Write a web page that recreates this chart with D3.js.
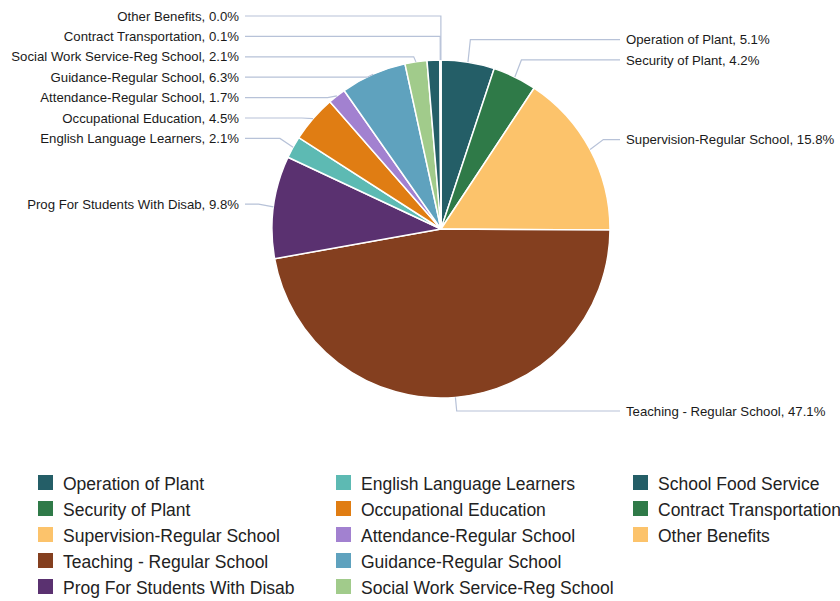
<!DOCTYPE html>
<html>
<head>
<meta charset="utf-8">
<script src="https://cdn.jsdelivr.net/npm/d3@7"></script>
<style>
  body { margin: 0; background: #fff; }
  svg { display: block; font-family: "Liberation Sans", Arial, sans-serif; }
</style>
</head>
<body>
<div id="chart"></div>
<script>
// data
var categories = [
  "Operation of Plant", "Security of Plant", "Supervision-Regular School",
  "Teaching - Regular School", "Prog For Students With Disab",
  "English Language Learners", "Occupational Education", "Attendance-Regular School",
  "Guidance-Regular School", "Social Work Service-Reg School",
  "School Food Service", "Contract Transportation", "Other Benefits"
];
var shares = [5.1, 4.2, 15.8, 47.1, 9.8, 2.1, 4.5, 1.7, 6.3, 2.1, 1.2, 0.1, 0.02];
var shownLabels = [5.1, 4.2, 15.8, 47.1, 9.8, 2.1, 4.5, 1.7, 6.3, 2.1, null, 0.1, 0.0];
var palette = ["#245e67", "#2f7a48", "#fcc36b", "#843f1f", "#5a3170",
               "#5dbab3", "#e07d13", "#a281d0", "#5fa2be", "#a1cb8b"];

var svgWidth = 840, svgHeight = 601;
var cx = 441, cy = 229, radius = 169;

var svg = d3.select("#chart").append("svg")
  .attr("width", svgWidth)
  .attr("height", svgHeight);

var color = d3.scaleOrdinal().domain(categories).range(palette);

var data = categories.map(function(c, i) {
  return { name: c, value: shares[i], label: shownLabels[i] };
});

var pie = d3.pie().sort(null).value(function(d) { return d.value; });
var arcs = pie(data);
var arc = d3.arc().innerRadius(0).outerRadius(radius);

var pieGroup = svg.append("g").attr("transform", `translate(${cx}, ${cy})`);

pieGroup.selectAll("path")
  .data(arcs)
  .enter()
  .append("path")
  .attr("d", arc)
  .attr("fill", d => color(d.data.name))
  .attr("stroke", "#fff")
  .attr("stroke-width", 1.5)
  .attr("stroke-linejoin", "round");

// label layout: natural y, then push apart in clusters
var labelR = 190, gap = 20.4, minY = 16, maxY = 411;
var labels = arcs.filter(d => d.data.label !== null).map(function(d) {
  var a = (d.startAngle + d.endAngle) / 2;
  return {
    d: d, a: a,
    side: Math.sin(a) >= 0 ? "right" : "left",
    y: cy - labelR * Math.cos(a)
  };
});

function spread(list) {
  list.sort((p, q) => p.y - q.y);
  var groups = list.map(l => ({ items: [l], mean: l.y }));
  var merged = true;
  while (merged) {
    merged = false;
    for (var i = 0; i < groups.length - 1; i++) {
      var g1 = groups[i], g2 = groups[i + 1];
      var top1 = Math.max(minY, g1.mean - (g1.items.length - 1) * gap / 2);
      var bottom1 = top1 + (g1.items.length - 1) * gap;
      var top2 = Math.max(minY, g2.mean - (g2.items.length - 1) * gap / 2);
      if (top2 - bottom1 < gap) {
        var items = g1.items.concat(g2.items);
        groups.splice(i, 2, { items: items, mean: d3.mean(items, it => it.y) });
        merged = true;
        break;
      }
    }
  }
  groups.forEach(function(g) {
    var top = Math.max(minY, g.mean - (g.items.length - 1) * gap / 2);
    g.items.forEach(function(it, k) {
      it.ly = Math.min(maxY, top + k * gap);
    });
  });
}
spread(labels.filter(l => l.side === "left"));
spread(labels.filter(l => l.side === "right"));

var labelGroup = svg.append("g");

labels.forEach(function(l) {
  var ex = cx + radius * Math.sin(l.a), ey = cy - radius * Math.cos(l.a);
  var bx = cx + (radius + 15) * Math.sin(l.a);
  var endX = l.side === "right" ? 620 : 245;
  labelGroup.append("polyline")
    .attr("points", `${ex},${ey} ${bx},${l.ly} ${endX},${l.ly}`)
    .attr("fill", "none")
    .attr("stroke", "#b7c2d8")
    .attr("stroke-width", 1.2);
  labelGroup.append("text")
    .attr("x", l.side === "right" ? 626 : 239)
    .attr("y", l.ly)
    .attr("dy", "0.35em")
    .attr("text-anchor", l.side === "right" ? "start" : "end")
    .style("font-size", "13.2px")
    .attr("fill", "#1a1a1a")
    .text(`${l.d.data.name}, ${l.d.data.label.toFixed(1)}%`);
});

// legend
var legend = svg.append("g");
var legendItems = legend.selectAll("g")
  .data(categories)
  .enter()
  .append("g")
  .attr("transform", function(d, i) {
    var col = Math.floor(i / 5), row = i % 5;
    var xs = [38, 336, 633];
    return `translate(${xs[col]}, ${475 + row * 26})`;
  });

legendItems.append("rect")
  .attr("width", 15)
  .attr("height", 15)
  .attr("fill", d => color(d));

legendItems.append("text")
  .attr("x", 25)
  .attr("y", 9)
  .attr("dy", "0.36em")
  .style("font-size", "17.5px")
  .attr("fill", "#222")
  .text(d => d);
</script>
</body>
</html>
